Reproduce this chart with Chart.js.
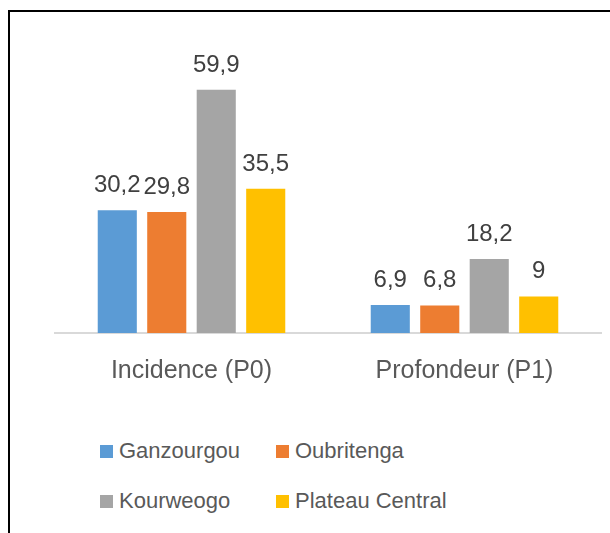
<!DOCTYPE html>
<html>
<head>
<meta charset="utf-8">
<script src="https://cdn.jsdelivr.net/npm/chart.js@4.4.0/dist/chart.umd.min.js"></script>
<style>
  body { margin: 0; background: #fff; width: 610px; height: 533px; overflow: hidden; position: relative; font-family: "Liberation Sans", sans-serif; }
  #frame { position: absolute; left: 8px; top: 10px; width: 610px; height: 540px; border-left: 2px solid #000; border-top: 2px solid #000; }
  #wrap { position: absolute; left: 0; top: 0; width: 610px; height: 410px; }
  #legend { position: absolute; left: 100px; top: 438px; width: 420px; }
  .item { position: absolute; display: flex; align-items: center; color: #595959; font-size: 22px; white-space: nowrap; }
  .box { width: 13px; height: 13px; margin-right: 6px; }
</style>
</head>
<body>
<div id="frame"></div>
<div id="wrap"><canvas id="chart"></canvas></div>
<div id="legend"></div>
<script>
var categories = ["Incidence (P0)", "Profondeur (P1)"];
var regions = ["Ganzourgou", "Oubritenga", "Kourweogo", "Plateau Central"];
var ganzourgou = [30.2, 6.9];
var oubritenga = [29.8, 6.8];
var kourweogo = [59.9, 18.2];
var plateauCentral = [35.5, 9];
var colors = ["#5b9bd5", "#ed7d31", "#a5a5a5", "#ffc000"];

var values = [ganzourgou, oubritenga, kourweogo, plateauCentral];

var datasets = [];
for (let i = 0; i < regions.length; i++) {
    datasets.push({
        label: regions[i],
        data: values[i],
        backgroundColor: colors[i],
        borderWidth: 0,
        categoryPercentage: 0.725,
        barPercentage: 0.79
    });
}

// value labels above bars, with a decimal comma
var valueLabels = {
    id: 'valueLabels',
    afterDatasetsDraw: function(chart) {
        var ctx = chart.ctx;
        ctx.save();
        ctx.font = '24px "Liberation Sans", sans-serif';
        ctx.fillStyle = '#404040';
        ctx.textAlign = 'center';
        ctx.textBaseline = 'alphabetic';
        chart.data.datasets.forEach(function(ds, i) {
            var meta = chart.getDatasetMeta(i);
            meta.data.forEach(function(bar, j) {
                var txt = String(ds.data[j]).replace('.', ',');
                ctx.fillText(txt, bar.x, bar.y - 18);
            });
        });
        ctx.restore();
    }
};

var chart = new Chart(document.getElementById('chart').getContext('2d'), {
    type: 'bar',
    data: { labels: categories, datasets: datasets },
    options: {
        responsive: true,
        maintainAspectRatio: false,
        animation: false,
        layout: { padding: { left: 55, right: 9, top: 0, bottom: 9 } },
        plugins: { legend: { display: false }, tooltip: { enabled: false } },
        scales: {
            x: {
                grid: { display: false },
                border: { display: true, color: '#d9d9d9', width: 2 },
                ticks: { color: '#595959', font: { size: 25, family: '"Liberation Sans", sans-serif' }, padding: 15 }
            },
            y: {
                display: false,
                min: 0,
                max: 82
            }
        }
    },
    plugins: [valueLabels]
});

var legend = document.getElementById('legend');
var pos = [[0, 0], [176, 0], [0, 50], [176, 50]];
for (let i = 0; i < regions.length; i++) {
    var item = document.createElement('div');
    item.className = 'item';
    item.style.left = pos[i][0] + 'px';
    item.style.top = pos[i][1] + 'px';
    item.innerHTML = '<span class="box" style="background:' + colors[i] + '"></span>' + regions[i];
    legend.appendChild(item);
}
</script>
</body>
</html>
